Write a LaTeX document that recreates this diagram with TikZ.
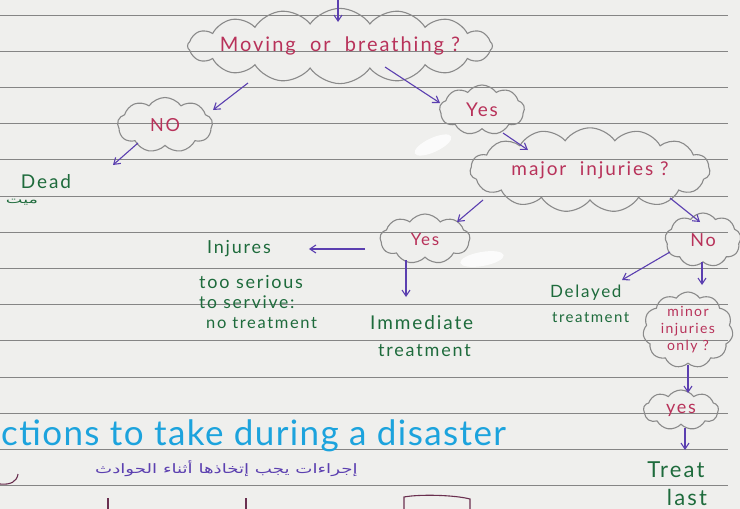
\documentclass[tikz,border=0pt]{standalone}
\usepackage{fontspec}
\setmainfont{Lato}
\newfontfamily\handfont[LetterSpace=10]{Lato}
\newfontfamily\titlefont[LetterSpace=4]{Lato}
\newfontfamily\arabicfont[Script=Arabic,FakeStretch=1.4]{DejaVu Sans}
\newfontfamily\arabicsmall[Script=Arabic,FakeStretch=1.6]{DejaVu Sans}
\TeXXeTstate=1
\usetikzlibrary{shapes.symbols,arrows.meta,calc}
\definecolor{paper}{HTML}{EFEFED}
\definecolor{rulecol}{HTML}{858585}
\definecolor{qred}{HTML}{B8325A}
\definecolor{agreen}{HTML}{1E6B3C}
\definecolor{apurple}{HTML}{5B3FB0}
\definecolor{tblue}{HTML}{1CA3DD}
\definecolor{cloudgray}{HTML}{8A8A8A}
\definecolor{inkdark}{HTML}{6A3050}
\newcommand{\hs}[1]{\handfont\fontsize{#1}{#1}\selectfont}
\tikzset{
  cloudbox/.style={cloud, draw=cloudgray, line width=1.1pt, cloud puffs=#1, cloud puff arc=110,
    inner sep=0pt, text=qred, align=center},
  gtext/.style={text=agreen, inner sep=0pt, align=left},
  arr/.style={draw=apurple, line width=1.1pt, -{Straight Barb[length=6pt,width=8pt]}},
  rulel/.style={draw=rulecol, line width=0.9pt},
  inkmark/.style={draw=inkdark, line width=1.1pt},
  smudge/.style={fill=white, opacity=0.8}
}
\begin{document}
\begin{tikzpicture}[x=1pt,y=-1pt]
\fill[paper] (0,0) rectangle (740,509);
\useasboundingbox (0,0) rectangle (740,509);
% ruled lines
\foreach \k in {0,...,13}{
  \draw[rulel] (0,{15+36.2*\k}) -- (728,{15+36.2*\k});
}
% correction-fluid smudges
\fill[smudge, rotate around={25:(433,145)}] (433,145) ellipse (20pt and 7pt);
\fill[smudge, rotate around={10:(482,259)}] (482,259) ellipse (22pt and 7pt);
% clouds
\node[cloudbox=16, aspect=5.6, inner xsep=-24pt, inner ysep=-3pt, minimum width=305pt, minimum height=50pt, font=\hs{20}] (q1) at (340,46) {Moving\ \ or\ \ breathing ?};
\node[cloudbox=9, aspect=1.7, minimum width=95pt, minimum height=55pt, font=\hs{18}] (no1) at (165,125) {NO};
\node[cloudbox=9, aspect=1.7, minimum width=85pt, minimum height=50pt, font=\hs{19}] (yes1) at (482,110) {Yes};
\node[cloudbox=15, aspect=3.6, minimum width=240pt, minimum height=64pt, font=\hs{19}] (q2) at (590,170) {major\ \ injuries ?};
\node[cloudbox=9, aspect=1.8, minimum width=90pt, minimum height=50pt, font=\hs{17}] (yes2) at (425,239) {Yes};
\node[cloudbox=9, aspect=1.4, minimum width=76pt, minimum height=54pt, font=\hs{18}] (no2) at (703,240) {No};
\node[cloudbox=11, aspect=1.2, minimum width=90pt, minimum height=76pt, font=\hs{14}] (q3) at (688,330) {minor\\[3pt]injuries\\[3pt]only ?};
\node[cloudbox=9, aspect=1.9, minimum width=75pt, minimum height=40pt, font=\hs{18}] (yes3) at (681,410) {yes};
% green texts
\node[gtext, font=\hs{19}] (dead) at (46,182) {Dead};
\node[text=agreen, font=\arabicsmall\fontsize{11}{11}\selectfont, inner sep=0pt] (deadar) at (22,202) {\beginR ميت\endR};
\node[gtext, anchor=west, font=\hs{18}] (inj) at (207,249) {Injures};
\node[gtext, anchor=west, font=\hs{18}] (inj2) at (199,282) {too serious};
\node[gtext, anchor=west, font=\hs{17.5}] (inj3) at (199,302) {to servive:};
\node[gtext, anchor=west, font=\hs{16.5}] (inj4) at (206,323) {no treatment};
\node[gtext, anchor=west, font=\hs{19}] (imm) at (370,323) {Immediate};
\node[gtext, anchor=west, font=\hs{18}] (imm2) at (378,351) {treatment};
\node[gtext, anchor=west, font=\hs{17}] (del) at (550,293) {Delayed};
\node[gtext, anchor=west, font=\hs{15}] (del2) at (552,318) {treatment};
\node[gtext, font=\hs{22}] (treat) at (676,470) {Treat};
\node[gtext, font=\hs{22}] (last) at (687,497) {last};
% title
\node[text=tblue, font=\titlefont\fontsize{35}{35}\selectfont, anchor=west, inner sep=0pt] (title) at (1,436) {ctions to take during a disaster};
\node[text=apurple, font=\arabicfont\fontsize{13}{13}\selectfont, anchor=west, inner sep=0pt] (artitle) at (95,469) {\beginR إجراءات يجب إتخاذها أثناء الحوادث\endR};
% arrows
\coordinate (top) at (338,0);
\draw[arr] (top) -- ($(q1)+(-2,-24)$);
\draw[arr] ($(q1)+(-92,37)$) -- ($(no1)+(48,-15)$);
\draw[arr] ($(q1)+(45,21)$) -- ($(yes1)+(-42,-7)$);
\draw[arr] ($(no1)+(-27,18)$) -- ($(dead)+(67,-17)$);
\draw[arr] ($(yes1)+(21,23)$) -- ($(q2)+(-62,-20)$);
\draw[arr] ($(q2)+(-107,30)$) -- ($(yes2)+(32,-17)$);
\draw[arr] ($(q2)+(80,28)$) -- ($(no2)+(-3,-18)$);
\draw[arr] ($(yes2)+(-60,10)$) -- ($(inj.east)+(38,0)$);
\draw[arr] ($(yes2)+(-19,21)$) -- ($(imm.west)+(36,-26)$);
\draw[arr] ($(no2)+(-33,12)$) -- ($(del.west)+(72,-13)$);
\draw[arr] ($(no2)+(-1,22)$) -- ($(q3)+(14,-45)$);
\draw[arr] ($(q3)+(0,35)$) -- ($(yes3)+(7,-17)$);
\draw[arr] ($(yes3)+(4,18)$) -- ($(treat)+(9,-20)$);
% partial marks at the bottom
\draw[inkmark] (0,484) .. controls (10,485) and (17,482) .. (18,474);
\draw[inkmark] (108,498) -- (108,509);
\draw[inkmark] (246,498) -- (246,509);
\draw[inkmark] (404,509) -- (404,497) .. controls (420,494) and (455,495) .. (470,499) -- (470,509);
\end{tikzpicture}
\end{document}
